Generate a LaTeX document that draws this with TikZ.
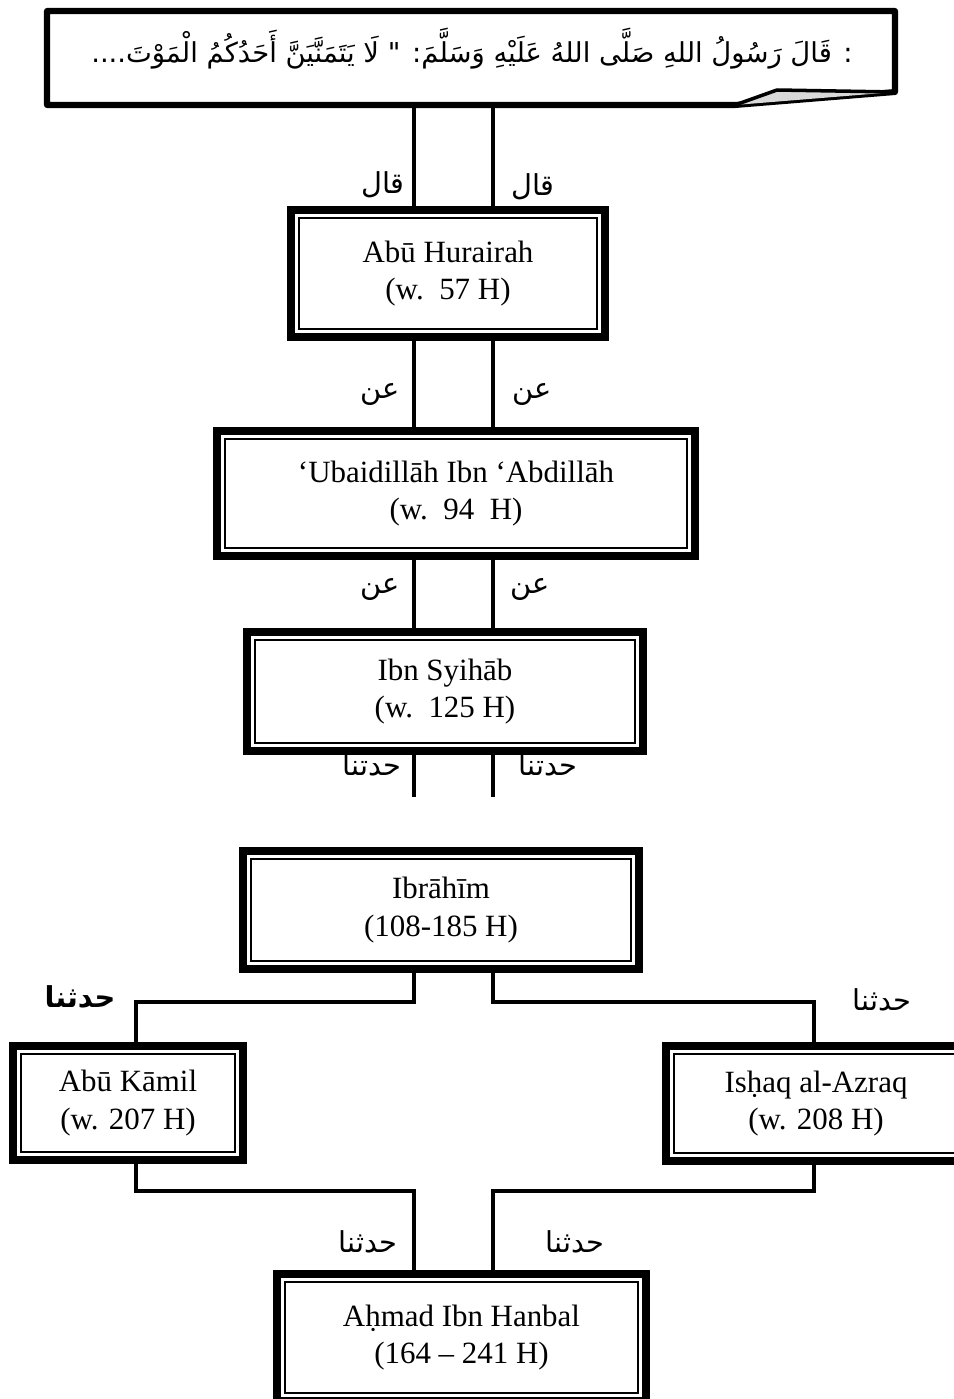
\documentclass[tikz,border=0pt]{standalone}
\usepackage{fontspec}
\setmainfont{Liberation Serif}
\newfontfamily\arabicfont[Script=Arabic]{DejaVu Sans}
\TeXXeTstate=1
\usetikzlibrary{calc}

\tikzset{
  narrator/.style={draw, line width=5.6pt, fill=white, align=center, inner sep=0pt,
    font=\fontsize{22}{26.5}\selectfont,
    path picture={\draw[line width=1.4pt]
      ([shift={(0.19,-0.19)}]path picture bounding box.north west) rectangle
      ([shift={(-0.19,0.19)}]path picture bounding box.south east);}},
  link/.style={line width=3.2pt},
  sighah/.style={inner sep=0pt, font=\arabicfont\fontsize{20.5}{22}\selectfont}
}

\begin{document}
\begin{tikzpicture}

  \useasboundingbox (0,0) rectangle (23.85,-34.975);

  % the hadith callout
  \draw [line width=4.3pt, line join=round, fill=white]
    (1.175,-0.275) -- (22.375,-0.275) -- (22.375,-2.3) -- (18.375,-2.625) -- (1.175,-2.625) -- cycle;
  \draw [line width=2.5pt, line join=round, fill=gray!30]
    (18.375,-2.625) -- (19.425,-2.25) -- (22.375,-2.3);
  \node[anchor=base, inner sep=0pt, font=\arabicfont\fontsize{19.5}{22}\selectfont] (hadith) at (11.8,-1.55)
    {\beginR : قَالَ رَسُولُ اللهِ صَلَّى اللهُ عَلَيْهِ وَسَلَّمَ: " لَا يَتَمَنَّيَنَّ أَحَدُكُمُ الْمَوْتَ....\endR};

  % x of the two lines of transmission
  \coordinate (L)  at (10.35,0);
  \coordinate (R)  at (12.325,0);
  \coordinate (KL) at (3.4,0);
  \coordinate (IR) at (20.35,0);
  \coordinate (qL) at (10.35,-2.625);
  \coordinate (qR) at (12.325,-2.625);
  \coordinate (sL) at (10.35,-19.925);
  \coordinate (sR) at (12.325,-19.925);
  \coordinate (hy) at (0,-25.05);
  \coordinate (ly) at (0,-29.775);

  % narrators
  \node[narrator, minimum width=7.85cm, minimum height=3.175cm] (hurairah) at (11.2,-6.8375)
    {Abū Hurairah\\(w.\ \ 57 H)};
  \node[narrator, minimum width=11.95cm, minimum height=3.125cm] (ubaid) at (11.4,-12.3375)
    {‘Ubaidillāh Ibn ‘Abdillāh\\(w.\ \ 94\ \ H)};
  \node[narrator, minimum width=9.9cm, minimum height=2.975cm] (syihab) at (11.125,-17.2875)
    {Ibn Syihāb\\(w.\ \ 125 H)};
  \node[narrator, minimum width=9.9cm, minimum height=2.95cm] (ibrahim) at (11.025,-22.75)
    {Ibrāhīm\\(108-185 H)};
  \node[narrator, minimum width=5.75cm, minimum height=2.85cm] (kamil) at (3.2,-27.575)
    {Abū Kāmil\\(w. 207 H)};
  \node[narrator, minimum width=7.5cm, minimum height=2.875cm] (ishaq) at (20.4,-27.5875)
    {Isḥaq al-Azraq\\(w. 208 H)};
  \node[narrator, minimum width=9.225cm, minimum height=3.175cm] (ahmad) at (11.5375,-33.4375)
    {Aḥmad Ibn Hanbal\\(164 – 241 H)};

  % connectors
  \draw[link] (qL) -- (hurairah.north -| L);
  \draw[link] (qR) -- (hurairah.north -| R);
  \draw[link] (hurairah.south -| L) -- (ubaid.north -| L);
  \draw[link] (hurairah.south -| R) -- (ubaid.north -| R);
  \draw[link] (ubaid.south -| L) -- (syihab.north -| L);
  \draw[link] (ubaid.south -| R) -- (syihab.north -| R);
  \draw[link] (syihab.south -| L) -- (sL);
  \draw[link] (syihab.south -| R) -- (sR);
  \draw[link] (ibrahim.south -| L) -- (hy -| L) -- (hy -| KL) -- (kamil.north -| KL);
  \draw[link] (ibrahim.south -| R) -- (hy -| R) -- (hy -| IR) -- (ishaq.north -| IR);
  \draw[link] (kamil.south -| KL) -- (ly -| KL) -- (ly -| L) -- (ahmad.north -| L);
  \draw[link] (ishaq.south -| IR) -- (ly -| IR) -- (ly -| R) -- (ahmad.north -| R);

  % sighah of transmission
  \node[sighah] (qala1) at (9.575,-4.625) {\beginR قال\endR};
  \node[sighah] (qala2) at (13.325,-4.675) {\beginR قال\endR};
  \node[sighah] (an1) at (9.5,-9.875) {\beginR عن\endR};
  \node[sighah] (an2) at (13.3,-9.875) {\beginR عن\endR};
  \node[sighah] (an3) at (9.5,-14.75) {\beginR عن\endR};
  \node[sighah] (an4) at (13.25,-14.75) {\beginR عن\endR};
  \node[sighah] (hd1) at (9.3,-19.125) {\beginR حدتنا\endR};
  \node[sighah] (hd2) at (13.7,-19.125) {\beginR حدتنا\endR};
  \node[sighah, font=\arabicfont\bfseries\fontsize{20.5}{22}\selectfont] (hd3) at (2.0,-24.925) {\beginR حدثنا\endR};
  \node[sighah] (hd4) at (22.05,-25.0) {\beginR حدثنا\endR};
  \node[sighah] (hd5) at (9.2,-31.05) {\beginR حدثنا\endR};
  \node[sighah] (hd6) at (14.375,-31.05) {\beginR حدثنا\endR};

\end{tikzpicture}
\end{document}
